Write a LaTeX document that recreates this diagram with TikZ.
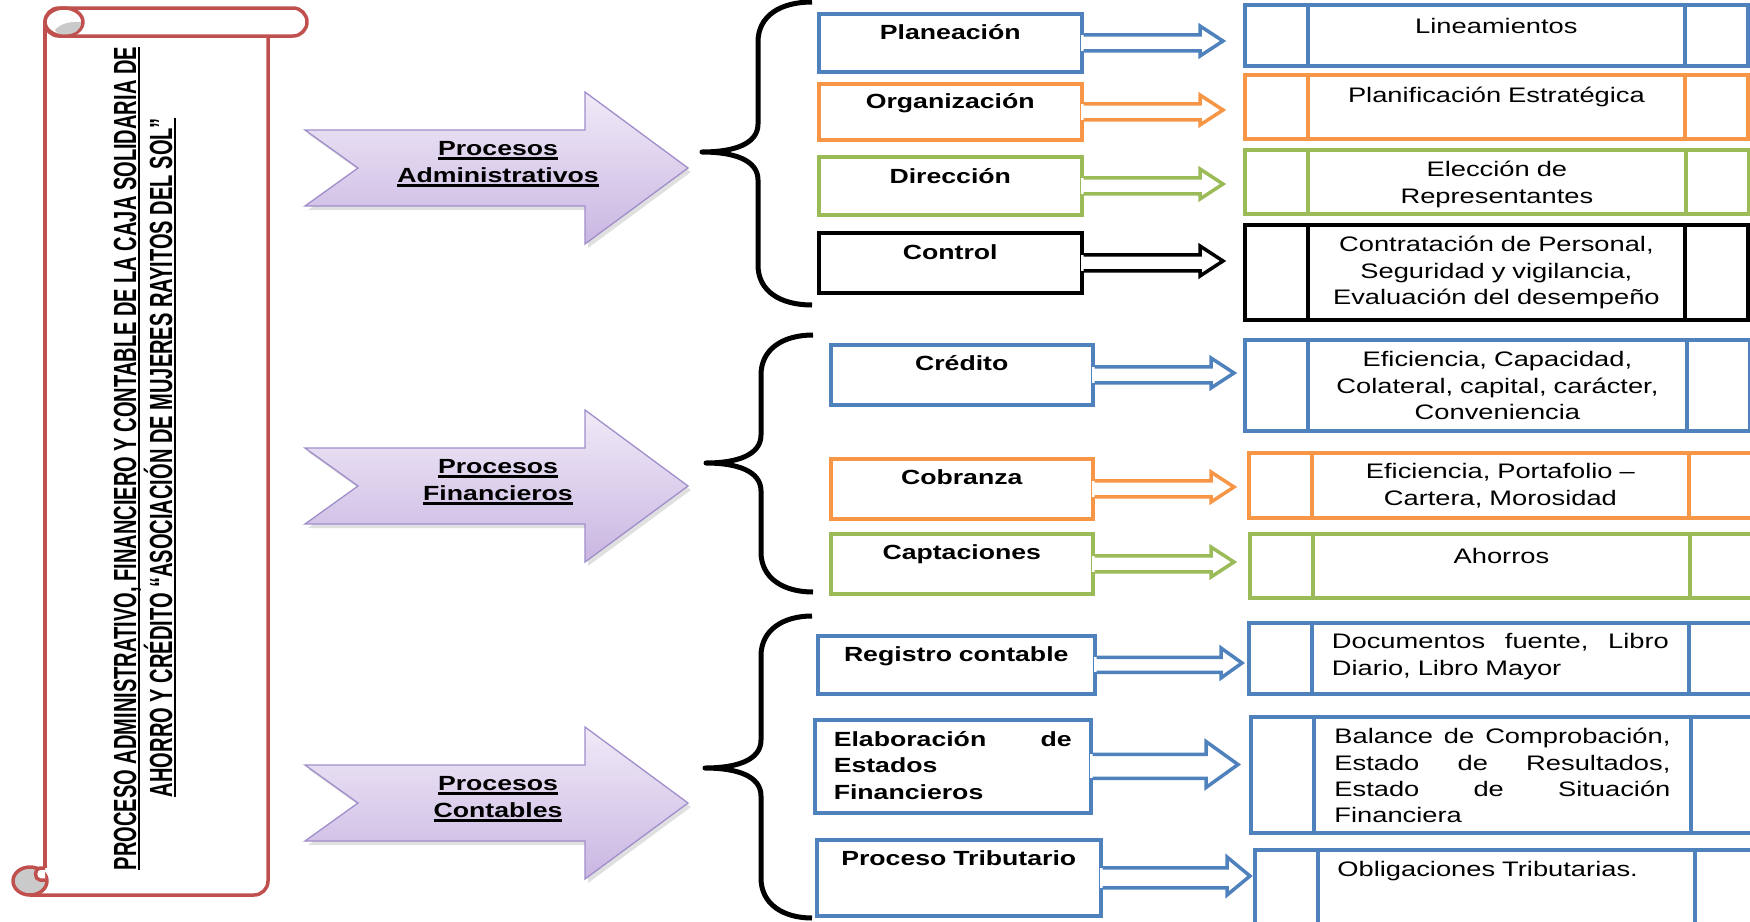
\documentclass[tikz,border=0pt]{standalone}
\usepackage{fontspec}
\setmainfont{Liberation Sans}[FakeStretch=1.3]
\newfontfamily\titlefont{Liberation Sans}
\usepackage{graphicx}
\usetikzlibrary{calc}

\definecolor{cblue}{HTML}{4F81BD}
\definecolor{corange}{HTML}{F79646}
\definecolor{cgreen}{HTML}{9BBB59}
\definecolor{cred}{HTML}{C0504D}
\definecolor{curlgray}{HTML}{CACACA}
\definecolor{lavtop}{HTML}{EFEAF7}
\definecolor{lavbot}{HTML}{CAB6E2}
\definecolor{lavline}{HTML}{A08ECB}

% thick underline drawn under a piece of text
\newcommand\ulx[2][-4.5pt]{\leavevmode\setbox0=\hbox{#2}\rlap{\rule[#1]{\wd0}{2.4pt}}\box0}

% arrow leaving a callout box: #1 box, #2 tip, #3 colour,
% #4 shaft half height, #5 head half height, #6 head length
\newcommand\calloutarrow[6]{%
  \coordinate (hb) at ($(#2)+(-#6,0)$);
  \coordinate (su) at ($(#1.east)+(0,-#4)$);
  \coordinate (sd) at ($(#1.east)+(0,#4)$);
  \fill[white] ($(su)+(-3,0)$) rectangle (hb |- sd);
  \draw[connector=#3] (su) -- (hb |- su) -- ($(hb)+(0,-#5)$) -- (#2)
    -- ($(hb)+(0,#5)$) -- (hb |- sd) -- (sd);
}

% curly brace: #1 end x, #2 top y, #3 stem x, #4 tip x, #5 tip y, #6 bottom y
\newcommand\bigbrace[6]{%
  \draw[bracestroke] (#1,#2) .. controls (#3+22,#2) and (#3,#2+14) .. (#3,#2+40)
    -- (#3,#5-28) .. controls (#3,#5-8) and (#3-24,#5) .. (#4,#5)
    .. controls (#3-24,#5) and (#3,#5+8) .. (#3,#5+28)
    -- (#3,#6-40) .. controls (#3,#6-14) and (#3+22,#6) .. (#1,#6);
}

% notched process arrow centred at height #1
\newcommand\procarrow[1]{%
  \begin{scope}[shift={(3,4)}]
    \fill[black, opacity=0.12] (305,#1-38) -- (585,#1-38) -- (585,#1-76) -- (688,#1)
      -- (585,#1+76) -- (585,#1+38) -- (305,#1+38) -- (358,#1) -- cycle;
  \end{scope}
  \path[procfill] (305,#1-38) -- (585,#1-38) -- (585,#1-76) -- (688,#1)
    -- (585,#1+76) -- (585,#1+38) -- (305,#1+38) -- (358,#1) -- cycle;
}

\begin{document}
\begin{tikzpicture}[x=1pt, y=-1pt,
  connector/.style={draw=#1, line width=3.5pt, line join=miter, miter limit=10},
  bracestroke/.style={line width=5pt, line join=round},
  scroll/.style={draw=cred, line width=3.5pt, line join=round},
  procfill/.style={top color=lavtop, bottom color=lavbot, draw=lavline, line width=1.3pt},
  ptext/.style={font=\fontsize{20.5pt}{27pt}\selectfont\bfseries, align=center,
    text width=260pt, inner sep=0pt, anchor=base},
  lbox/.style={draw=#1, line width=3.5pt, inner sep=0pt, anchor=north west,
    font=\fontsize{20.5pt}{26.2pt}\selectfont\bfseries, align=center, text width=240pt},
  rbox/.style={draw=#1, line width=3.8pt, inner sep=0pt, anchor=north west,
    minimum width=503pt, font=\fontsize{21pt}{26.2pt}\selectfont, align=center,
    text width=360pt,
    path picture={\draw[#1, line width=3.8pt]
      ([xshift=63pt]path picture bounding box.north west) --
      ([xshift=63pt]path picture bounding box.south west)
      ([xshift=-63pt]path picture bounding box.north east) --
      ([xshift=-63pt]path picture bounding box.south east);}},
]
\useasboundingbox (0,0) rectangle (1750,921);
\clip (0,0) rectangle (1750,921);

% ---------- scroll ----------
\fill[white] (45,22) rectangle (268,895);
\draw[scroll, rounded corners=14pt] (268,36) -- (268,895) -- (30,895);
\draw[scroll] (45,22) -- (45,868);
\filldraw[scroll, fill=curlgray] (30,881) circle [x radius=17pt, y radius=14pt];
\filldraw[scroll, fill=white] (45,880) -- (40,880) .. controls (34,880) and (34,868) .. (40,868) -- (45,868);
\filldraw[scroll, fill=white, rounded corners=14pt] (45,8) rectangle (307,36);
\filldraw[scroll, fill=white] (64,22) circle [x radius=19pt, y radius=14pt];
\fill[curlgray] (55,30) .. controls (60,24) and (70,21) .. (81,22)
  .. controls (81,30) and (75,34.5) .. (64,34.5) .. controls (60,34.5) and (56,33) .. (55,30);

\node[rotate=90, anchor=base, inner sep=0pt] (title1) at (136,458.5)
  {\resizebox{823pt}{\height}{\titlefont\bfseries\fontsize{32pt}{36pt}\selectfont
   \ulx[-4pt]{PROCESO ADMINISTRATIVO, FINANCIERO Y CONTABLE DE LA CAJA SOLIDARIA DE}}};
\node[rotate=90, anchor=base, inner sep=0pt] (title2) at (172,457.5)
  {\resizebox{679pt}{\height}{\titlefont\bfseries\fontsize{32pt}{36pt}\selectfont
   \ulx[-4pt]{AHORRO Y CRÉDITO “ASOCIACIÓN DE MUJERES RAYITOS DEL SOL”}}};

% ---------- process arrows ----------
\procarrow{168}
\procarrow{486}
\procarrow{803}
\node[ptext] (pa) at (498,155) {\ulx{Procesos}\\\ulx{Administrativos}};
\node[ptext] (pf) at (498,473) {\ulx{Procesos}\\\ulx{Financieros}};
\node[ptext] (pc) at (498,790) {\ulx{Procesos}\\\ulx{Contables}};

% ---------- braces ----------
\bigbrace{812}{2}{758}{702}{152}{305}
\bigbrace{813}{335}{761}{706}{463}{592}
\bigbrace{812}{616}{761}{705}{768}{918}

% ---------- left boxes ----------
\node[lbox=cblue, minimum width=263pt, text height=26pt, text depth=32pt] (p1) at (817,12) {Planeación};
\node[lbox=corange, minimum width=263pt, text height=25pt, text depth=31pt] (p2) at (817,82) {Organización};
\node[lbox=cgreen, minimum width=263pt, text height=27pt, text depth=31pt] (p3) at (817,155) {Dirección};
\node[lbox=black, minimum width=263pt, text height=27pt, text depth=33pt] (p4) at (817,231) {Control};
\node[lbox=cblue, minimum width=262pt, text height=26pt, text depth=34pt] (p5) at (829,343) {Crédito};
\node[lbox=corange, minimum width=262pt, text height=26pt, text depth=34pt] (p6) at (829,457) {Cobranza};
\node[lbox=cgreen, minimum width=262pt, text height=26pt, text depth=34pt] (p7) at (829,532) {Captaciones};
\node[lbox=cblue, minimum width=277pt, text height=26pt, text depth=32pt] (p8) at (816,634) {Registro contable};
\node[lbox=cblue, minimum width=276pt, text width=238pt, align=left, text height=27pt, text depth=66pt] (p9) at (813,718)
  {Elaboración\hfill de\\Estados\\Financieros};
\node[lbox=cblue, minimum width=284pt, text width=260pt, text height=26pt, text depth=50pt] (p10) at (815,838) {Proceso Tributario};

% ---------- right boxes ----------
\node[rbox=cblue, text height=29pt, text depth=32pt] (r1) at (1243,3) {Lineamientos};
\node[rbox=corange, text height=28pt, text depth=36pt] (r2) at (1243,73) {Planificación Estratégica};
\node[rbox=cgreen, minimum width=504pt, text height=27pt, text depth=37pt] (r3) at (1243,148) {Elección de\\Representantes};
\node[rbox=black, text height=27pt, text depth=68pt] (r4) at (1243,223)
  {Contratación de Personal,\\Seguridad y vigilancia,\\Evaluación del desempeño};
\node[rbox=cblue, minimum width=505pt, text height=27pt, text depth=64pt] (r5) at (1243,338)
  {Eficiencia, Capacidad,\\Colateral, capital, carácter,\\Conveniencia};
\node[rbox=corange, text height=26pt, text depth=39pt] (r6) at (1247,451)
  {Eficiencia, Portafolio –\\Cartera, Morosidad};
\node[rbox=cgreen, text height=30pt, text depth=34pt] (r7) at (1248,532) {Ahorros};
\node[rbox=cblue, text width=337pt, align=left, text height=26pt, text depth=45pt] (r8) at (1247,621)
  {Documentos\hfill fuente,\hfill Libro\\Diario, Libro Mayor};
\node[rbox=cblue, text width=336pt, align=left, text height=27pt, text depth=89pt] (r9) at (1249,715)
  {Balance\hfill de\hfill Comprobación,\\Estado\hfill de\hfill Resultados,\\Estado\hfill de\hfill Situación\\Financiera};
\node[rbox=cblue, text width=338pt, align=left, text height=27pt, text depth=60pt] (r10) at (1253,848)
  {Obligaciones Tributarias.};

% ---------- arrows between boxes ----------
\coordinate (t1) at (1223,41);
\coordinate (t2) at (1223,110);
\coordinate (t3) at (1223,184);
\coordinate (t4) at (1223,261);
\coordinate (t5) at (1234,373);
\coordinate (t6) at (1234,487);
\coordinate (t7) at (1234,562);
\coordinate (t8) at (1242,663);
\coordinate (t9) at (1238,764.5);
\coordinate (t10) at (1250,876);
\calloutarrow{p1}{t1}{cblue}{8}{15}{23}
\calloutarrow{p2}{t2}{corange}{8}{15}{23}
\calloutarrow{p3}{t3}{cgreen}{8}{15}{23}
\calloutarrow{p4}{t4}{black}{8}{15}{23}
\calloutarrow{p5}{t5}{cblue}{8}{15}{23}
\calloutarrow{p6}{t6}{corange}{8}{15}{23}
\calloutarrow{p7}{t7}{cgreen}{8}{15}{23}
\calloutarrow{p8}{t8}{cblue}{7.5}{15}{21}
\calloutarrow{p9}{t9}{cblue}{12}{23}{32}
\calloutarrow{p10}{t10}{cblue}{10}{19}{23}
\end{tikzpicture}
\end{document}
